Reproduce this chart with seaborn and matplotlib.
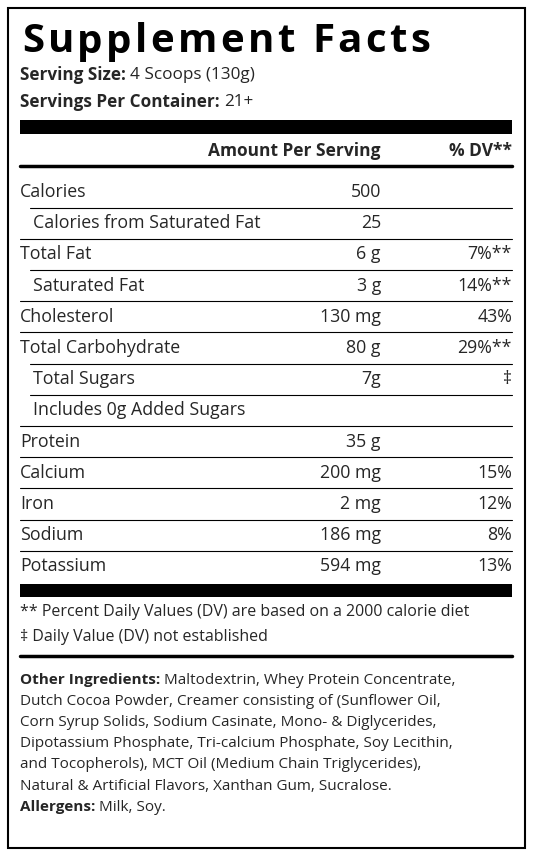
import matplotlib
matplotlib.use("Agg")
import matplotlib.pyplot as plt
import seaborn as sns

sns.set_theme(style="white")
plt.rcParams['font.family'] = ['Open Sans', 'DejaVu Sans']

title = "Supplement Facts"
serving_size = "4 Scoops (130g)"
servings = "21+"
nutrients = ["Calories", "Calories from Saturated Fat", "Total Fat", "Saturated Fat",
             "Cholesterol", "Total Carbohydrate", "Total Sugars", "Includes 0g Added Sugars",
             "Protein", "Calcium", "Iron", "Sodium", "Potassium"]
amounts = ["500", "25", "6 g", "3 g", "130 mg", "80 g", "7g", "", "35 g", "200 mg",
           "2 mg", "186 mg", "594 mg"]
dvs = ["", "", "7%**", "14%**", "43%", "29%**", "‡", "", "", "15%", "12%", "8%", "13%"]
indent = [0, 1, 0, 1, 0, 0, 1, 1, 0, 0, 0, 0, 0]
footnotes = ["** Percent Daily Values (DV) are based on a 2000 calorie diet",
             "‡ Daily Value (DV) not established"]
ingredients = [
    ("Other Ingredients: ", "Maltodextrin, Whey Protein Concentrate,"),
    ("", "Dutch Cocoa Powder, Creamer consisting of (Sunflower Oil,"),
    ("", "Corn Syrup Solids, Sodium Casinate, Mono- & Diglycerides,"),
    ("", "Dipotassium Phosphate, Tri-calcium Phosphate, Soy Lecithin,"),
    ("", "and Tocopherols), MCT Oil (Medium Chain Triglycerides),"),
    ("", "Natural & Artificial Flavors, Xanthan Gum, Sucralose."),
    ("Allergens: ", "Milk, Soy."),
]

fig = plt.figure(figsize=(5.33, 8.55), dpi=100)
ax = fig.add_axes([0, 0, 1, 1])
ax.set_xlim(0, 533); ax.set_ylim(855, 0); ax.axis("off")
inv = ax.transData.inverted()

def right_x(t):
    fig.canvas.draw()
    return inv.transform((t.get_window_extent().x1, 0))[0]

ax.add_patch(plt.Rectangle((8, 8), 517, 840, fill=False, lw=1.5, ec="black"))
L, R = 20, 512
x = L + 2
for ch in title:
    t = ax.text(x, 42, ch, fontsize=29, fontweight="bold", va="center", ha="left", color="black")
    x = right_x(t) + 3.4

for y, b, v in [(75, "Serving Size: ", serving_size), (102, "Servings Per Container: ", servings)]:
    t = ax.text(L, y, b, fontsize=12.3, fontweight="bold", va="center")
    ax.text(right_x(t), y, v, fontsize=12.3, va="center")

ax.add_patch(plt.Rectangle((L, 120), R - L, 14, color="black", lw=0))
ax.text(381, 151, "Amount Per Serving", fontsize=12.5, fontweight="bold", ha="right", va="center")
ax.text(R, 151, "% DV**", fontsize=12.5, fontweight="bold", ha="right", va="center")
ax.plot([L, R], [166, 166], color="black", lw=2.5)

y0, dy = 192, 31.2
for i, (n, a, d, ind) in enumerate(zip(nutrients, amounts, dvs, indent)):
    y = y0 + i * dy
    ax.text(L + (13 if ind else 0), y, n, fontsize=12.8, va="center")
    ax.text(381, y, a, fontsize=12.8, va="center", ha="right")
    ax.text(R, y, d, fontsize=12.8, va="center", ha="right")
    if i < len(nutrients) - 1:
        nx = L + 10 if indent[i + 1] else L
        ax.plot([nx, R], [y + dy / 2, y + dy / 2], color="black", lw=0.8)

ax.add_patch(plt.Rectangle((L, 584), R - L, 13, color="black", lw=0))
ax.text(L, 612, footnotes[0], fontsize=11.5, va="center")
ax.text(L, 637, footnotes[1], fontsize=11.5, va="center")
ax.plot([L, R], [656, 656], color="black", lw=2.5)

for i, (b, t) in enumerate(ingredients):
    y = 680 + i * 21.2
    x = L
    if b:
        tb = ax.text(x, y, b, fontsize=11, fontweight="bold", va="center")
        x = right_x(tb)
    ax.text(x, y, t, fontsize=11, va="center")

fig.savefig("out.png", dpi=100)
